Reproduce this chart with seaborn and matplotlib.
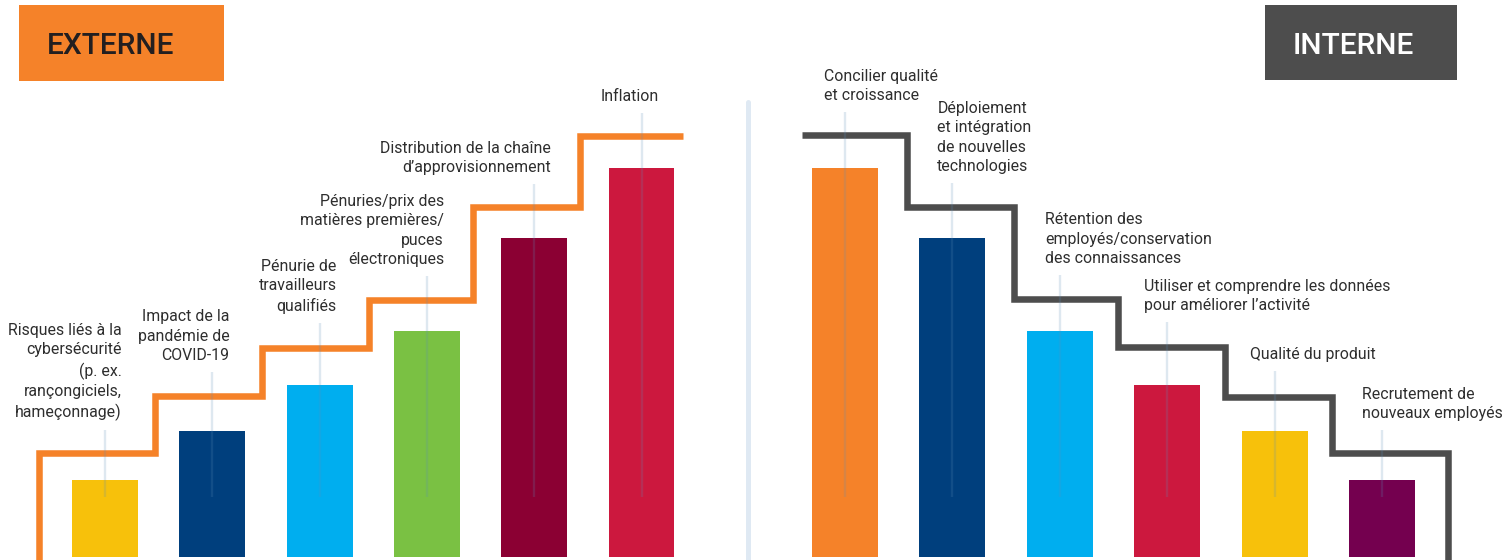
import matplotlib
matplotlib.use("Agg")
import matplotlib.pyplot as plt
from matplotlib.patches import Rectangle
from matplotlib.lines import Line2D
import seaborn as sns
import pandas as pd

sns.set_theme(style="white")
plt.rcParams["font.family"] = ["Roboto", "DejaVu Sans"]

# ---- data -------------------------------------------------------------
ext_labels = [
    "Risques liés à la\ncybersécurité\n(p. ex.\nrançongiciels,\nhameçonnage)",
    "Impact de la\npandémie de\nCOVID-19",
    "Pénurie de\ntravailleurs\nqualifiés",
    "Pénuries/prix des\nmatières premières/\npuces\nélectroniques",
    "Distribution de la chaîne\nd’approvisionnement",
    "Inflation",
]
ext_values = [19.3, 31.5, 43.0, 56.5, 79.8, 97.3]
ext_steps = [26.0, 40.3, 52.3, 64.3, 87.5, 105.3]
ext_colors = ["#f7c10b", "#003f7d", "#00aeef", "#7ac143", "#8b0033", "#cc183e"]

int_labels = [
    "Concilier qualité\net croissance",
    "Déploiement\net intégration\nde nouvelles\ntechnologies",
    "Rétention des\nemployés/conservation\ndes connaissances",
    "Utiliser et comprendre les données\npour améliorer l’activité",
    "Qualité du produit",
    "Recrutement de\nnouveaux employés",
]
int_values = [97.3, 79.8, 56.5, 43.0, 31.5, 19.3]
int_steps = [105.5, 87.5, 64.5, 52.5, 40.0, 26.0]
int_colors = ["#f58229", "#003f7d", "#00aeef", "#cc183e", "#f7c10b", "#74004f"]

# ---- layout -----------------------------------------------------------
W, H = 1506, 560
PX = 4.0  # pixels per value unit
fig = plt.figure(figsize=(W / 100, H / 100), dpi=100)
fig.patch.set_facecolor("white")

axL = fig.add_axes([0, 0, 748 / W, 1])
axR = fig.add_axes([748 / W, 0, 758 / W, 1])

TEXT = "#2e2e2e"
GUIDE = "#5b8db8"
FS = 11.4


def panel(ax, labels, values, colors, steps_x, steps_y, line_color,
          guide_tops, label_dx, ha, x0_px, unit_px, ax_left, ax_w):
    df = pd.DataFrame({"cat": labels, "val": values})
    sns.barplot(data=df, x="cat", y="val", hue="cat", palette=colors,
                width=0.615, dodge=False, legend=False, saturation=1,
                linewidth=0, ax=ax, zorder=1)
    ax.plot(steps_x, steps_y, color=line_color, lw=4.7,
            solid_joinstyle="miter", solid_capstyle="butt", zorder=2)
    xs = range(len(labels))
    ax.vlines(list(xs), [15] * len(labels), guide_tops, color=GUIDE,
              alpha=0.2, lw=1.7, zorder=3)
    for i, (lab, top) in enumerate(zip(labels, guide_tops)):
        ax.annotate(lab, (i, top), xytext=(label_dx[i] * 0.72, 6.5),
                    textcoords="offset points", ha=ha, va="bottom",
                    fontsize=FS, color=TEXT, linespacing=1.36,
                    multialignment=ha)
    ax.set_xlim((ax_left - x0_px) / unit_px, (ax_left + ax_w - x0_px) / unit_px)
    ax.set_ylim(-(H - 557) / PX, 557 / PX)
    ax.axis("off")


# external factors: rising staircase
ext_sx = [-0.615, -0.615, 0.465, 0.465, 1.462, 1.462, 2.46, 2.46,
          3.43, 3.43, 4.43, 4.43, 5.39]
ext_sy = [-3, ext_steps[0], ext_steps[0], ext_steps[1], ext_steps[1],
          ext_steps[2], ext_steps[2], ext_steps[3], ext_steps[3],
          ext_steps[4], ext_steps[4], ext_steps[5], ext_steps[5]]
ext_guides = [31.75, 46.25, 58.5, 70.25, 93.25, 111.0]
panel(axL, ext_labels, ext_values, ext_colors, ext_sx, ext_sy, "#f58229",
      ext_guides, [17] * 6, "right", 105, 107.3, 0, 748)

# internal factors: falling staircase
int_sx = [-0.40, 0.577, 0.577, 1.574, 1.574, 2.542, 2.542, 3.538, 3.538,
          4.534, 4.534, 5.614, 5.614]
int_sy = [int_steps[0], int_steps[0], int_steps[1], int_steps[1],
          int_steps[2], int_steps[2], int_steps[3], int_steps[3],
          int_steps[4], int_steps[4], int_steps[5], int_steps[5], -3]
int_guides = [111.25, 93.5, 70.5, 58.75, 46.5, 31.75]
panel(axR, int_labels, int_values, int_colors, int_sx, int_sy, "#4d4d4d",
      int_guides, [-21, -15, -15, -23, -25, -20], "left", 845, 107.4, 748, 758)

# divider between the two panels
fig.add_artist(Line2D([748 / W, 748 / W], [0, 1 - 102 / H], color="#dfe9f3",
                      lw=3.6, solid_capstyle="round", transform=fig.transFigure))


# section headers
def header(x0, x1, y0, y1, face, text, tx, tcolor):
    fig.add_artist(Rectangle((x0 / W, 1 - y1 / H), (x1 - x0) / W, (y1 - y0) / H,
                             facecolor=face, edgecolor="none",
                             transform=fig.transFigure))
    fig.text(tx / W, 1 - 54 / H, text, fontsize=21.5, fontweight="medium",
             color=tcolor, ha="left", va="baseline")


header(19, 224, 5, 81, "#f58229", "EXTERNE", 47, "#231f20")
header(1265, 1457, 5, 80, "#4d4d4d", "INTERNE", 1293, "white")

fig.savefig("out.png", dpi=100, facecolor="white")
